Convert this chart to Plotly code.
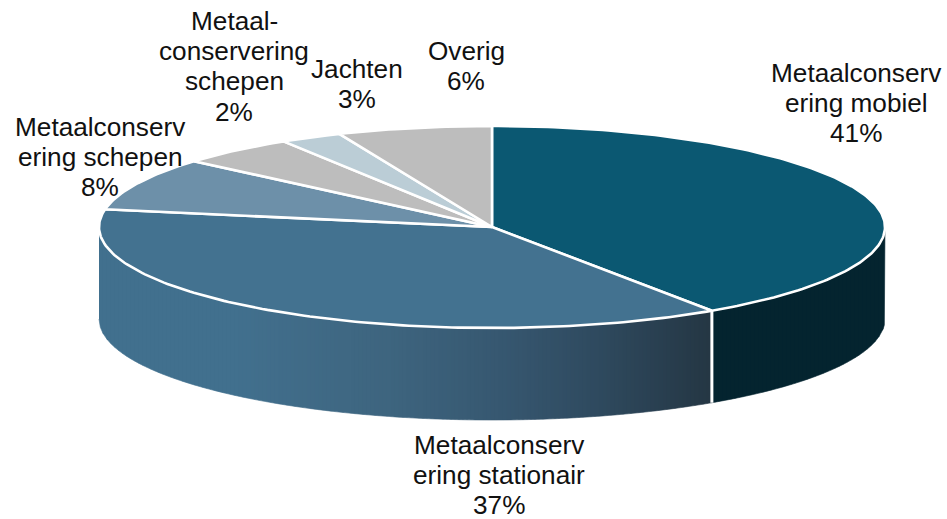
import numpy as np
import plotly.graph_objects as go

categories = ["Metaalconserv\nering mobiel", "Metaalconserv\nering stationair", "Metaalconserv\nering schepen",
              "Metaal-\nconservering\nschepen", "Jachten", "Overig"]
label_pcts = ["41%", "37%", "8%", "2%", "3%", "6%"]
values = [40.55, 37.25, 8.5, 4.8, 2.55, 6.35]
colors = ["#0b5872", "#437290", "#6d90a9", "#bdbdbd", "#bbcdd6", "#bdbdbd"]
label_centers = [(856, 73), (499, 444.5), (100, 127), (234, 21), (357, 69), (466, 51)]

W, H = 947, 519
CX, CY, RX, RY, DEPTH = 492, 227, 393, 101, 92
LINE_H = 30.2
FONT = dict(family="Liberation Sans, Arial, sans-serif", size=26.2, color="#111111")

grad_x = [99, 240, 390, 500, 600, 711]
grad_rgb = [(0x41, 0x70, 0x8f), (0x42, 0x70, 0x8e), (0x3e, 0x65, 0x7f), (0x37, 0x58, 0x71), (0x2f, 0x4a, 0x5f), (0x25, 0x37, 0x44)]
RIGHT_WALL = "#04242f"

fr = np.cumsum([0] + values) / sum(values)
ang = fr * 2 * np.pi


def pt(a, dy=0.0):
    return CX + RX * np.sin(a), CY - RY * np.cos(a) + dy


fig = go.Figure()

# wall: narrow strips, shaded by horizontal position
bx, by = pt(ang[1])
edges = np.arange(0, 2 * RX + 4, 4.0) + CX - RX
for x0, x1 in zip(edges[:-1], edges[1:]):
    x1 = min(x1, CX + RX)
    xs = np.linspace(x0, x1, 4)
    u = np.clip((xs - CX) / RX, -1, 1)
    top = CY + RY * np.sqrt(1 - u ** 2)
    xm = (x0 + x1) / 2
    if xm < bx:
        c = "rgb(%d,%d,%d)" % tuple(np.interp(xm, grad_x, [g[i] for g in grad_rgb]) for i in range(3))
    else:
        c = RIGHT_WALL
    fig.add_trace(go.Scatter(
        x=np.r_[xs, xs[::-1]], y=np.r_[top, top[::-1] + DEPTH], mode="lines",
        fill="toself", fillcolor=c, line=dict(color=c, width=0.6), hoverinfo="skip", showlegend=False))

# white seam on the wall
fig.add_trace(go.Scatter(x=[bx, bx], y=[by, by + DEPTH], mode="lines",
                         line=dict(color="white", width=3), hoverinfo="skip", showlegend=False))

# top face
for i, v in enumerate(values):
    a = np.linspace(ang[i], ang[i + 1], max(4, int(v * 4)))
    ex, ey = pt(a)
    fig.add_trace(go.Scatter(
        x=np.r_[CX, ex, CX], y=np.r_[CY, ey, CY], mode="lines", fill="toself",
        fillcolor=colors[i], line=dict(color="white", width=2.6), name=categories[i].replace("\n", ""),
        hoverinfo="skip", showlegend=False))

# labels, one annotation per line to hold the line pitch
for cat, pct, (lx, ly) in zip(categories, label_pcts, label_centers):
    for j, line in enumerate(cat.split("\n") + [pct]):
        fig.add_annotation(x=lx, y=ly + j * LINE_H, text=line, showarrow=False, font=FONT,
                           xanchor="center", yanchor="middle")

fig.update_layout(width=W, height=H, margin=dict(l=0, r=0, t=0, b=0), autosize=False,
                  paper_bgcolor="white", plot_bgcolor="white",
                  xaxis=dict(range=[0, W], visible=False, fixedrange=True),
                  yaxis=dict(range=[H, 0], visible=False, fixedrange=True))
fig.write_html("out.html", config=dict(displayModeBar=False),
               post_script="document.body.style.margin='0';document.body.style.overflow='hidden';")
